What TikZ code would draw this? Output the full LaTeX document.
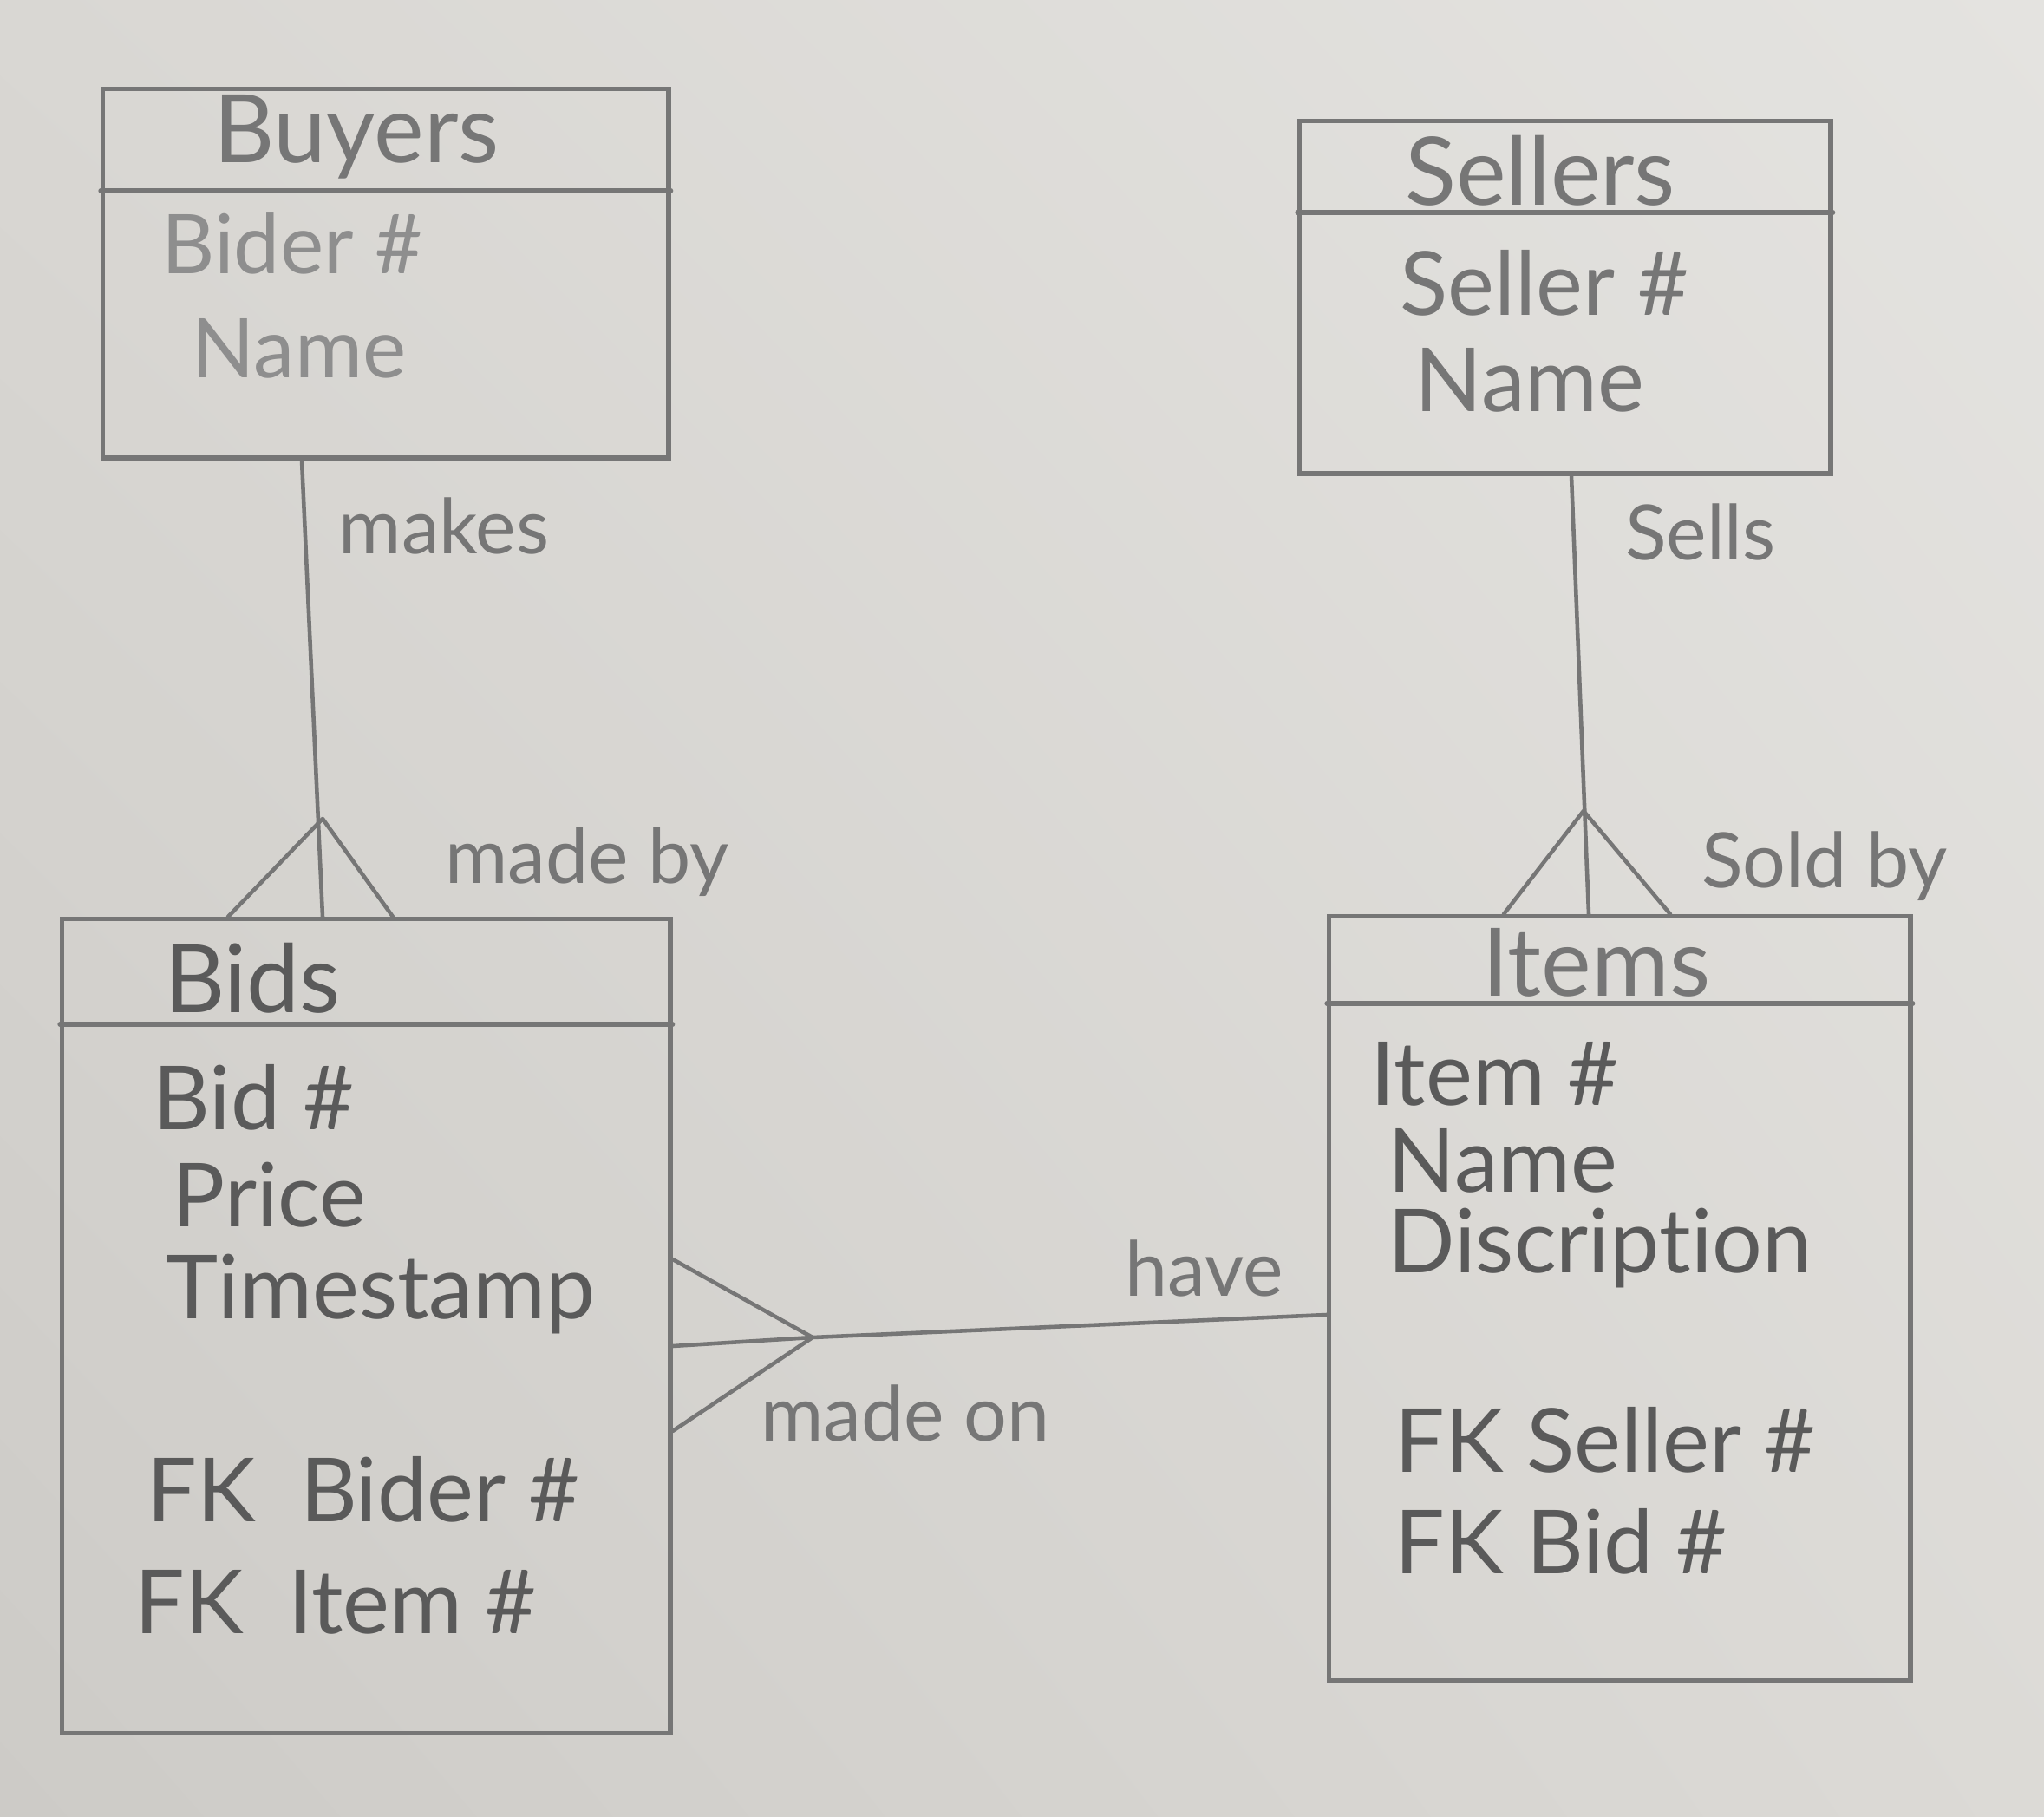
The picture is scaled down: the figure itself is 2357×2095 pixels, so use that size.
\documentclass[tikz,border=0pt]{standalone}
\usepackage{fontspec}
\setmainfont{Lato}[Ligatures={NoCommon}]
\usetikzlibrary{calc,shadings}
\definecolor{paperA}{HTML}{D9D7D3}
\definecolor{paperB}{HTML}{E4E3E0}
\definecolor{paperC}{HTML}{CDCBC7}
\definecolor{paperD}{HTML}{DCDAD6}
\definecolor{pencil}{HTML}{767676}
\definecolor{pencildark}{HTML}{5A5A5A}
\definecolor{pencillight}{HTML}{8E8E8E}
\begin{document}
\begin{tikzpicture}[x=0.01cm,y=-0.01cm,
  entity/.style={draw=pencil, line width=1.5pt, rectangle, inner sep=0pt, anchor=north west},
  conn/.style={draw=pencil, line width=1.3pt, line join=round, line cap=round},
  title/.style={text=pencil, font=\fontsize{31}{36}\selectfont, inner sep=0pt},
  attr/.style={text=pencil, font=\fontsize{29}{34}\selectfont, anchor=west, inner sep=0pt},
  attrlight/.style={attr, text=pencillight, font=\fontsize{27}{32}\selectfont},
  attrdark/.style={attr, text=pencildark},
  rel/.style={text=pencil, font=\fontsize{25}{30}\selectfont, inner sep=0pt}]
\shade[upper left=paperA, upper right=paperB, lower left=paperC, lower right=paperD] (0,0) rectangle (2357,2095);
\useasboundingbox (0,0) rectangle (2357,2095);

% entities
\node[entity, minimum width=6.52cm, minimum height=4.25cm] (buyers) at (116,100) {};
\node[entity, minimum width=6.12cm, minimum height=4.06cm] (sellers) at (1496,137) {};
\node[entity, minimum width=7.01cm, minimum height=9.38cm] (bids) at (69,1057) {};
\node[entity, minimum width=6.70cm, minimum height=8.80cm] (items) at (1530,1054) {};

% header dividers
\draw[conn, line width=1.5pt] ($(buyers.north west)+(0,120)$) -- ($(buyers.north east)+(0,120)$);
\draw[conn, line width=1.5pt] ($(sellers.north west)+(0,108)$) -- ($(sellers.north east)+(0,108)$);
\draw[conn, line width=1.5pt] ($(bids.north west)+(0,124)$) -- ($(bids.north east)+(0,124)$);
\draw[conn, line width=1.5pt] ($(items.north west)+(0,103)$) -- ($(items.north east)+(0,103)$);

% titles
\node[title] (buyers-t) at (411,158) {Buyers};
\node[title] (sellers-t) at (1776,197) {Sellers};
\node[title, text=pencildark] (bids-t) at (291,1128) {Bids};
\node[title] (items-t) at (1841,1110) {Items};

% attributes
\node[attrlight] (buyers-a1) at (186,281) {Bider \#};
\node[attrlight] (buyers-a2) at (221,402) {Name};

\node[attr] (sellers-a1) at (1614,326) {Seller \#};
\node[attr] (sellers-a2) at (1631,438) {Name};

\node[attrdark] (bids-a1) at (176,1265) {Bid \#};
\node[attrdark] (bids-a2) at (198,1378) {Price};
\node[attrdark] (bids-a3) at (191,1492) {Timestamp};
\node[attrdark] (bids-a4) at (169,1717) {FK\enspace Bider \#};
\node[attrdark] (bids-a5) at (155,1847) {FK\enspace Item \#};

\node[attrdark] (items-a1) at (1580,1238) {Item \#};
\node[attrdark] (items-a2) at (1600,1338) {Name};
\node[attrdark] (items-a3) at (1600,1439) {Discrip\kern0ptt\kern0ption};
\node[attrdark] (items-a4) at (1608,1660) {FK Seller \#};
\node[attrdark] (items-a5) at (1608,1777) {FK Bid \#};

% Buyers -- Bids (one to many)
\coordinate (bb-top) at ($(buyers.south west)+(232,0)$);
\coordinate (bb-bot) at ($(bids.north west)+(303,0)$);
\coordinate (bb-apex) at (372,944);
\coordinate (bb-f1) at ($(bids.north west)+(194,0)$);
\coordinate (bb-f2) at ($(bids.north west)+(384,0)$);
\draw[conn] (bb-top) -- (bb-bot);
\draw[conn] (bb-f1) -- (bb-apex) -- (bb-f2);

% Sellers -- Items (one to many)
\coordinate (si-top) at ($(sellers.south west)+(316,0)$);
\coordinate (si-bot) at ($(items.north west)+(302,0)$);
\coordinate (si-apex) at (1826,935);
\coordinate (si-f1) at ($(items.north west)+(204,0)$);
\coordinate (si-f2) at ($(items.north west)+(396,0)$);
\draw[conn] (si-top) -- (si-bot);
\draw[conn] (si-f1) -- (si-apex) -- (si-f2);

% Items -- Bids (one to many)
\coordinate (ib-end) at ($(items.north west)+(0,462)$);
\coordinate (ib-apex) at (937,1542);
\coordinate (ib-f1) at ($(bids.north east)+(0,395)$);
\coordinate (ib-f2) at ($(bids.north east)+(0,495)$);
\coordinate (ib-f3) at ($(bids.north east)+(0,593)$);
\draw[conn] (ib-end) -- (ib-apex);
\draw[conn] (ib-f1) -- (ib-apex) -- (ib-f3);
\draw[conn] (ib-f2) -- (ib-apex);

% relationship labels
\node[rel] (l-makes) at (512,606) {makes};
\node[rel] (l-madeby) at (677,994) {made by};
\node[rel] (l-sells) at (1961,613) {Sells};
\node[rel] (l-soldby) at (2104,999) {Sold by};
\node[rel] (l-have) at (1389,1462) {have};
\node[rel] (l-madeon) at (1044,1629) {made on};
\end{tikzpicture}
\end{document}
